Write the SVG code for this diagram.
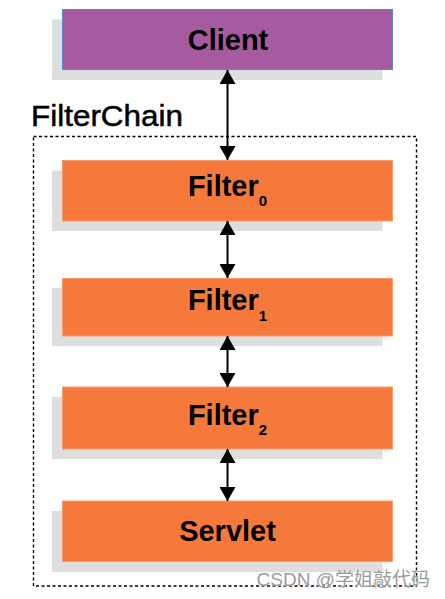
<svg xmlns="http://www.w3.org/2000/svg" width="445" height="599" viewBox="0 0 445 599">
<style>
.shadow{fill:#dedede}
.client{fill:#a65aa0;stroke:#5b86d0;stroke-width:1}
.filter{fill:#f5793b;stroke:#f99a6e;stroke-width:1}
.lbl{font-family:"Liberation Sans",Arial,sans-serif;font-weight:bold;font-size:29px;fill:#000;text-anchor:middle}
.sub{font-size:15px}
.conn{stroke:#000;stroke-width:2;fill:none}
</style>
<defs>
<marker id="ah" viewBox="0 0 14 16" refX="14" refY="8" markerWidth="14" markerHeight="16" markerUnits="userSpaceOnUse" orient="auto-start-reverse">
<path d="M0,0 L14,8 L0,16 Z" fill="#000"/>
</marker>
</defs>
<rect width="445" height="599" fill="#fff"/>
<g id="filterchain">
<rect x="33.5" y="136.5" width="383" height="449.5" fill="none" stroke="#000" stroke-width="1.4" stroke-dasharray="3,2.5"/>
<text x="31" y="126" font-family="'Liberation Sans',Arial,sans-serif" font-size="29" fill="#000" stroke="#000" stroke-width="0.5" textLength="152" lengthAdjust="spacingAndGlyphs">FilterChain</text>
</g>
<g id="client">
<rect class="shadow" x="52" y="19.5" width="330.5" height="60.5"/>
<rect class="client" x="62.5" y="9.5" width="330" height="60"/>
<text class="lbl" x="228" y="49.5">Client</text>
</g>
<g id="filter0">
<rect class="shadow" x="52" y="170.5" width="330.5" height="60.5"/>
<rect class="filter" x="62.5" y="160.5" width="330" height="60.5"/>
<text class="lbl" x="227.5" y="196">Filter<tspan class="sub" dy="10">0</tspan></text>
</g>
<g id="filter1">
<rect class="shadow" x="52" y="288" width="330.5" height="58"/>
<rect class="filter" x="62.5" y="278.5" width="330" height="57.5"/>
<text class="lbl" x="227.5" y="310">Filter<tspan class="sub" dy="11">1</tspan></text>
</g>
<g id="filter2">
<rect class="shadow" x="52" y="397" width="330.5" height="62"/>
<rect class="filter" x="62.5" y="387" width="330" height="62"/>
<text class="lbl" x="227.5" y="424.5">Filter<tspan class="sub" dy="10">2</tspan></text>
</g>
<g id="servlet">
<rect class="shadow" x="52" y="511" width="330.5" height="61"/>
<rect class="filter" x="62.5" y="501" width="330" height="60.5"/>
<text class="lbl" x="227.5" y="540.5">Servlet</text>
</g>
<g id="connectors">
<line class="conn" x1="227.5" y1="70" x2="227.5" y2="160" marker-start="url(#ah)" marker-end="url(#ah)"/>
<line class="conn" x1="227.5" y1="221" x2="227.5" y2="278" marker-start="url(#ah)" marker-end="url(#ah)"/>
<line class="conn" x1="227.5" y1="336" x2="227.5" y2="387" marker-start="url(#ah)" marker-end="url(#ah)"/>
<line class="conn" x1="227.5" y1="449" x2="227.5" y2="501" marker-start="url(#ah)" marker-end="url(#ah)"/>
</g>
<text x="430" y="586" text-anchor="end" font-family="'Liberation Sans','Noto Sans CJK SC',sans-serif" font-size="19" fill="#9a9a9a" stroke="#fff" stroke-width="0.6" paint-order="stroke">CSDN @学姐敲代码</text>
</svg>
